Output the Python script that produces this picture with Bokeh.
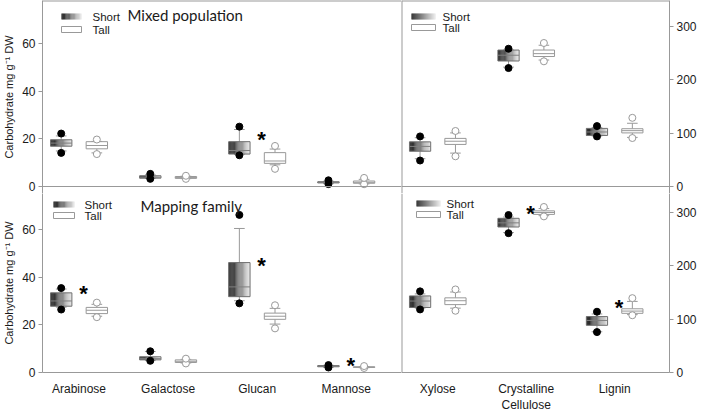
import numpy as np
from bokeh.plotting import figure
from bokeh.layouts import column, row
from bokeh.models import Range1d, FixedTicker, Span
from bokeh.embed import file_html
from bokeh.resources import INLINE
from bokeh.core.properties import value

# ---------------- data ----------------
left_cats = ["Arabinose", "Galactose", "Glucan", "Mannose"]
right_cats = ["Xylose", "Crystalline\nCellulose", "Lignin"]
left_ticks = [0, 20, 40, 60]
right_ticks = [0, 100, 200, 300]
groups = ["Short", "Tall"]
y_label = "Carbohydrate mg g\u207b\u00b9 DW"
top_title = "Mixed population"
bottom_title = "Mapping family"

# each box: [low point, low whisker, q1, median, q3, high whisker, high point]
mixed_left_short = [
    [14.1, 14.9, 16.9, 18.2, 19.6, 21.2, 22.2],
    [3.2, 3.4, 3.5, 3.9, 4.5, 4.9, 5.3],
    [13.1, 13.4, 13.6, 15.1, 18.8, 23.9, 25.1],
    [1.0, 1.2, 1.5, 1.7, 2.0, 2.2, 2.6],
]
mixed_left_tall = [
    [13.6, 14.1, 15.8, 17.2, 18.8, 18.9, 19.7],
    [3.2, 3.3, 3.4, 3.8, 4.2, 4.3, 4.5],
    [7.4, 9.1, 9.7, 10.7, 14.2, 15.7, 17.0],
    [0.95, 1.1, 1.35, 1.75, 2.3, 3.0, 3.6],
]
mixed_right_short = [
    [48.6, 52.0, 66.0, 75.0, 83.5, 91.3, 93.7],
    [221.6, 223.4, 234.8, 245.6, 255.3, 255.5, 257.7],
    [93.7, 94.5, 95.5, 102.0, 108.7, 110.5, 113.0],
]
mixed_right_tall = [
    [56.5, 62.5, 78.7, 84.7, 90.0, 100.3, 103.9],
    [234.2, 236.6, 243.2, 248.6, 255.3, 264.3, 268.5],
    [90.7, 91.9, 100.3, 104.5, 108.1, 118.3, 128.5],
]
mapping_left_short = [
    [26.4, 27.4, 27.8, 30.0, 33.4, 35.0, 35.4],
    [4.9, 5.0, 5.3, 5.8, 6.6, 8.8, 8.9],
    [29.0, 30.1, 31.8, 35.9, 46.1, 60.4, 66.1],
    [2.1, 2.2, 2.4, 2.6, 2.9, 3.0, 3.1],
]
mapping_left_tall = [
    [23.2, 23.6, 24.7, 26.1, 27.3, 28.6, 29.3],
    [3.8, 4.0, 4.2, 4.7, 5.3, 5.5, 5.8],
    [18.5, 20.3, 22.3, 23.6, 24.9, 26.9, 28.2],
    [1.9, 2.0, 2.1, 2.25, 2.4, 2.5, 2.7],
]
mapping_right_short = [
    [118.0, 120.4, 121.6, 133.7, 143.3, 147.0, 151.8],
    [260.7, 261.9, 272.2, 280.0, 288.5, 291.0, 294.6],
    [75.6, 76.2, 88.3, 97.4, 104.6, 109.5, 113.7],
]
mapping_right_tall = [
    [115.5, 120.4, 127.0, 134.3, 139.7, 150.6, 155.4],
    [292.1, 293.4, 295.8, 299.4, 302.4, 306.7, 309.7],
    [107.1, 108.3, 110.7, 114.9, 119.2, 133.0, 139.1],
]
# significance stars: (category index 1-based, y value)
mixed_left_stars = [(3, 22.3)]
mixed_right_stars = []
mapping_left_stars = [(1, 35.7), (3, 47.4), (4, 5.3)]
mapping_right_stars = [(2, 309.0), (3, 133.0)]

left_y_max = 78
right_y_max = 348

# ---------------- style ----------------
GRAY = "#999999"
TXT = "#1a1a1a"
FONT = "Liberation Sans"
TFONT = "Lato"
PH = 186      # panel height in px
EXT = 7       # top panels extend this far below their zero line
XS = 0.59
OFF = 0.2
BW = 0.24
CW = 0.12
N = 24


def gray_hex(g):
    return "#%02x%02x%02x" % (g, g, g)


def strips(xl, xr, yb, yt):
    L, R, B, T, C = [], [], [], [], []
    for a, b, c, d in zip(xl, xr, yb, yt):
        w = (b - a) / N
        for i in range(N):
            L.append(a + i * w)
            R.append(a + (i + 1) * w + w * 0.05)
            B.append(c)
            T.append(d)
            C.append(gray_hex(int(round(228 * i / (N - 1)))))
    return L, R, B, T, C


def build(cats, short, tall, stars, y_max, ticks, side, bottom, title, title_off, leg, frame_w, x_end, ylabel):
    pxy = PH / y_max
    e = EXT / pxy
    if bottom:
        yr = Range1d(0, y_max - e)
        fh = PH - EXT
    else:
        yr = Range1d(-e, y_max)
        fh = PH + EXT
    kw = dict(min_border_left=0, min_border_right=0, min_border_top=0, min_border_bottom=0)
    if side == "left":
        kw["min_border_left"] = 38
    else:
        kw["min_border_right"] = 27
    p = figure(frame_width=frame_w, frame_height=fh, x_range=Range1d(XS, x_end),
               y_range=yr, y_axis_location=side,
               output_backend="svg", toolbar_location=None, **kw)
    p.grid.visible = False
    p.outline_line_color = None
    ya = p.yaxis[0]
    ya.ticker = FixedTicker(ticks=ticks, minor_ticks=[])
    ya.axis_line_color = GRAY
    ya.major_tick_line_color = GRAY
    ya.major_tick_out = 4
    ya.major_tick_in = 0
    ya.minor_tick_line_color = None
    ya.major_label_text_font = FONT
    ya.major_label_text_font_size = "12px"
    ya.major_label_text_color = TXT
    ya.major_label_standoff = 3
    if ylabel:
        ya.axis_label = ylabel
        ya.axis_label_text_font = FONT
        ya.axis_label_text_font_size = "11px"
        ya.axis_label_text_font_style = "normal"
        ya.axis_label_text_color = TXT
        ya.axis_label_standoff = 4
    xa = p.xaxis[0]
    if bottom:
        xa.ticker = FixedTicker(ticks=list(range(1, len(cats) + 1)), minor_ticks=[])
        xa.major_label_overrides = {i + 1: c for i, c in enumerate(cats)}
        xa.major_tick_line_color = None
        xa.minor_tick_line_color = None
        xa.axis_line_color = GRAY
        xa.major_label_text_font = FONT
        xa.major_label_text_font_size = "12px"
        xa.major_label_text_color = TXT
        xa.major_label_standoff = 3
    else:
        xa.visible = False
        # top border and zero line
        p.add_layout(Span(location=y_max, dimension="width", line_color=GRAY, line_width=2))
        p.add_layout(Span(location=0, dimension="width", line_color=GRAY, line_width=1))
    if side == "right":
        # divider between left and right panels
        p.add_layout(Span(location=XS, dimension="height", line_color=GRAY, line_width=2))

    xc = np.arange(1, len(cats) + 1, dtype=float)
    for arr, xpos, kind in ((np.array(short, float), xc - OFF, "short"),
                            (np.array(tall, float), xc + OFF, "tall")):
        lp, lw, q1, md, q3, hw, hp = arr.T
        p.segment(x0=xpos, y0=q3, x1=xpos, y1=hw, line_color=GRAY, line_width=1)
        p.segment(x0=xpos, y0=lw, x1=xpos, y1=q1, line_color=GRAY, line_width=1)
        p.segment(x0=xpos - CW / 2, y0=hw, x1=xpos + CW / 2, y1=hw, line_color=GRAY)
        p.segment(x0=xpos - CW / 2, y0=lw, x1=xpos + CW / 2, y1=lw, line_color=GRAY)
        if kind == "short":
            L, R, B, T, C = strips(xpos - BW / 2, xpos + BW / 2, q1, q3)
            p.quad(left=L, right=R, bottom=B, top=T, fill_color=C, line_color=None)
            p.quad(left=xpos - BW / 2, right=xpos + BW / 2, bottom=q1, top=q3,
                   fill_color=None, line_color="#707070")
            p.segment(x0=xpos - BW / 2, y0=md, x1=xpos + BW / 2, y1=md, line_color="#808080")
            p.scatter(x=np.r_[xpos, xpos], y=np.r_[lp, hp], size=7, fill_color="black",
                      line_color="black")
        else:
            p.quad(left=xpos - BW / 2, right=xpos + BW / 2, bottom=q1, top=q3,
                   fill_color="white", line_color=GRAY)
            p.segment(x0=xpos - BW / 2, y0=md, x1=xpos + BW / 2, y1=md, line_color=GRAY)
            p.scatter(x=np.r_[xpos, xpos], y=np.r_[lp, hp], size=7, fill_color="white",
                      line_color=GRAY)

    if stars:
        p.text(x=[s[0] + 0.05 for s in stars], y=[s[1] for s in stars], text=["*"] * len(stars),
               text_font=value(FONT), text_font_size="22px", text_font_style="bold",
               text_align="center", text_baseline="middle", text_color="black", y_offset=6)

    pxx = frame_w / (x_end - XS)

    def dx(o):
        return XS + o / pxx

    def dy(o):
        return y_max - o / pxy

    sx0, sx1, sy_s, sy_t, tx = leg
    L, R, B, T, C = strips([dx(sx0)], [dx(sx1)], [dy(sy_s + 6)], [dy(sy_s)])
    p.quad(left=L, right=R, bottom=B, top=T, fill_color=C, line_color=None)
    p.quad(left=[dx(sx0)], right=[dx(sx1)], bottom=[dy(sy_t + 6)], top=[dy(sy_t)],
           fill_color="white", line_color=GRAY)
    p.text(x=[dx(tx), dx(tx)], y=[dy(sy_s + 3), dy(sy_t + 3)], text=groups,
           text_font=value(FONT), text_font_size="11.5px", text_baseline="middle",
           text_color=TXT)
    if title:
        p.text(x=[dx(title_off[0])], y=[dy(title_off[1])], text=[title],
               text_font=value(TFONT), text_font_size="15px", text_baseline="middle",
               text_color=TXT)
    return p


W1, W2 = 359, 268
XL_END, XR_END = 4.62, 3.62

p1 = build(left_cats, mixed_left_short, mixed_left_tall, mixed_left_stars, left_y_max, left_ticks,
           "left", False, top_title, (85, 14), (19, 39, 13, 26, 50), W1, XL_END, y_label)
p2 = build(right_cats, mixed_right_short, mixed_right_tall, mixed_right_stars, right_y_max, right_ticks,
           "right", False, None, None, (10, 34, 13, 24, 41), W2, XR_END, None)
p3 = build(left_cats, mapping_left_short, mapping_left_tall, mapping_left_stars, left_y_max, left_ticks,
           "left", True, bottom_title, (98, 19), (11, 32, 15, 26, 42), W1, XL_END, y_label)
p4 = build(right_cats, mapping_right_short, mapping_right_tall, mapping_right_stars, right_y_max, right_ticks,
           "right", True, None, None, (15, 39, 14, 25, 45), W2, XR_END, None)

layout = column(row(p1, p2), row(p3, p4))
open("out.html", "w").write(file_html(layout, INLINE))
